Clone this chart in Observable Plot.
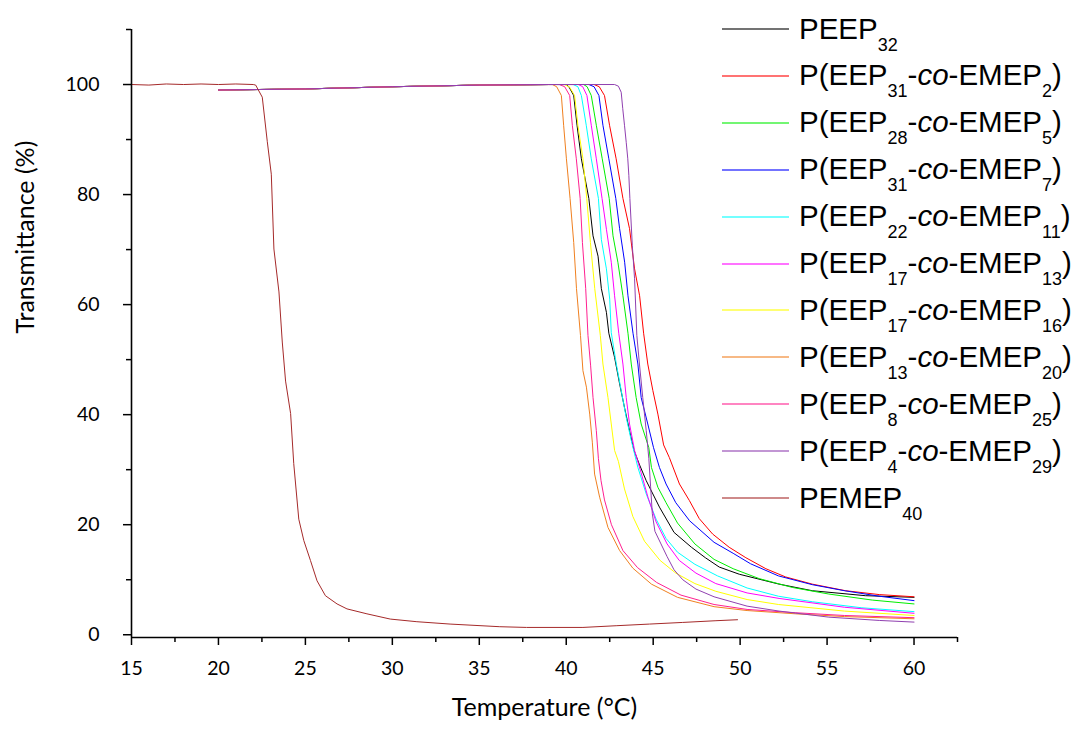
<!DOCTYPE html>
<html>
<head>
<meta charset="utf-8">
<script src="https://cdn.jsdelivr.net/npm/d3@7"></script>
<script src="https://cdn.jsdelivr.net/npm/@observablehq/plot@0.6"></script>
<style>
html, body { margin: 0; padding: 0; background: #fff; }
#wrap { position: relative; width: 1081px; height: 729px; overflow: hidden; background: #fff; }
#legend { position: absolute; left: 0; top: 0; font-family: "Liberation Sans", Arial, sans-serif; font-size: 29.5px; color: #000; }
.row { position: absolute; left: 722px; height: 30px; line-height: 30px; display: flex; align-items: center; white-space: nowrap; }
.swatch { width: 67px; height: 2px; margin-right: 10px; opacity: 0.55; }
.row sub { font-size: 18px; vertical-align: -12px; line-height: 0; }
</style>
</head>
<body>
<div id="wrap"><div id="chart"></div><div id="legend"></div></div>
<script>
// ---- data (temperature °C, transmittance %) ----
const seriesNames = ["PEEP32", "P(EEP31-co-EMEP2)", "P(EEP28-co-EMEP5)", "P(EEP31-co-EMEP7)", "P(EEP22-co-EMEP11)",
  "P(EEP17-co-EMEP13)", "P(EEP17-co-EMEP16)", "P(EEP13-co-EMEP20)", "P(EEP8-co-EMEP25)", "P(EEP4-co-EMEP29)", "PEMEP40"];
const legendLabels = ["PEEP<sub>32</sub>", "P(EEP<sub>31</sub>-<i>co</i>-EMEP<sub>2</sub>)", "P(EEP<sub>28</sub>-<i>co</i>-EMEP<sub>5</sub>)",
  "P(EEP<sub>31</sub>-<i>co</i>-EMEP<sub>7</sub>)", "P(EEP<sub>22</sub>-<i>co</i>-EMEP<sub>11</sub>)", "P(EEP<sub>17</sub>-<i>co</i>-EMEP<sub>13</sub>)",
  "P(EEP<sub>17</sub>-<i>co</i>-EMEP<sub>16</sub>)", "P(EEP<sub>13</sub>-<i>co</i>-EMEP<sub>20</sub>)", "P(EEP<sub>8</sub>-<i>co</i>-EMEP<sub>25</sub>)",
  "P(EEP<sub>4</sub>-<i>co</i>-EMEP<sub>29</sub>)", "PEMEP<sub>40</sub>"];
const seriesColors = ["#000000", "#ff0000", "#00ee00", "#0000ff", "#00ffff", "#ff00ff", "#ffff00", "#f08020", "#ff2090", "#9040b0", "#a52a2a"];

const peep32 = [[20,99.0],[25,99.2],[30,99.6],[35,99.9],[39,100],[40.0,100],[40.15,99.6],[40.43,98],[40.62,92.6],[40.87,86.5],[41.3,79.3],[41.54,72.5],[41.83,68.8],[42.02,62.9],[42.31,58.6],[42.45,54.8],[42.78,50.4],[43.07,45.6],[43.35,41.3],[43.64,37.1],[43.9,33.5],[44.2,31],[44.6,28],[45.36,23.2],[46.2,18.6],[47.2,15.9],[48.0,14.0],[48.8,12.3],[49.95,11.0],[52.24,9.2],[54.15,8.0],[57.2,7.1],[60,6.8]];
const eep31emep2 = [[20,99.0],[25,99.2],[30,99.6],[35,99.9],[39,100],[41.6,100],[41.9,99.6],[42.2,98],[42.49,92.6],[42.87,86.5],[43.26,79.3],[43.64,73.8],[43.93,66.5],[44.22,61.6],[44.45,54.8],[44.69,49.2],[44.98,44.4],[45.27,40.1],[45.6,34.5],[45.93,32.2],[46.51,27.4],[47.08,24.4],[47.65,21.1],[48.42,18.3],[49.37,15.9],[50.33,14.0],[51.48,12.0],[52.62,10.5],[54.15,9.2],[56.07,8.0],[58,7.3],[60,6.9]];
const eep28emep5 = [[20,99.0],[25,99.2],[30,99.6],[35,99.9],[39,100],[41.0,100],[41.2,99.6],[41.44,98],[41.73,92.6],[42.07,86.5],[42.47,79.3],[42.69,72.5],[42.97,67.7],[43.26,61.6],[43.55,54.8],[43.74,49.2],[44.02,43.1],[44.31,38.3],[44.75,34],[44.9,30.4],[45.27,26.8],[45.74,24],[46.4,20.3],[47.4,16.5],[48.5,13.7],[49.6,12.0],[51.1,10.2],[53,8.6],[55.1,7.4],[57.6,6.3],[60,5.6]];
const eep31emep7 = [[20,99.0],[25,99.2],[30,99.6],[35,99.9],[39,100],[41.3,100],[41.6,99.6],[41.88,98],[42.11,92.6],[42.45,86.5],[42.85,79.3],[43.07,73.8],[43.36,67.7],[43.55,61.6],[43.84,54.8],[44.12,49.2],[44.31,43.1],[44.69,38.3],[45.02,34],[45.36,30.4],[45.74,27.4],[46.3,24],[47.1,20.7],[48.5,16.8],[49.6,14.8],[50.6,12.9],[52.2,10.7],[54.15,9.1],[56,8.0],[58,7.0],[60,6.2]];
const eep22emep11 = [[20,99.0],[25,99.2],[30,99.6],[35,99.9],[39,100],[40.4,100],[40.67,99.6],[40.87,98],[41.15,92.6],[41.44,86.5],[41.85,79.3],[42.02,71.8],[42.31,66.5],[42.5,61],[42.59,54.9],[42.88,49.2],[43.16,44.4],[43.45,39.5],[43.74,35.3],[44.12,30.4],[44.6,25.6],[45.17,21.0],[45.74,17.5],[46.4,15.0],[47.4,12.8],[48.7,10.7],[50.4,8.5],[52.2,7.0],[54.15,6.0],[57,4.9],[60,4.2]];
const eep17emep13 = [[20,99.0],[25,99.2],[30,99.6],[35,99.9],[39,100],[40.7,100],[40.95,99.6],[41.19,98],[41.44,92.6],[41.73,86.5],[42.06,79.3],[42.31,73.7],[42.59,67.7],[42.78,61.6],[43.02,54.8],[43.26,49.2],[43.45,43.1],[43.64,38.3],[43.93,33.5],[44.3,29.5],[44.7,25],[45.17,20.5],[45.8,16.5],[46.5,13.5],[47.46,11.2],[48.6,9.3],[50.4,7.6],[52.24,6.6],[56,5.0],[60,3.9]];
const eep17emep16 = [[20,99.0],[25,99.2],[30,99.6],[35,99.9],[39,100],[39.9,100],[40.2,99.5],[40.48,98],[40.67,92.6],[40.96,86.5],[41.18,79.3],[41.39,71.3],[41.64,62.9],[41.96,54.4],[42.11,49.2],[42.4,43.1],[42.59,38.3],[42.78,33.5],[43.0,31.5],[43.35,26.5],[43.83,21.5],[44.5,17],[45.4,13.5],[46.3,11.2],[47.4,9.3],[48.6,7.9],[50.4,6.4],[52.2,5.5],[56,4.3],[60,3.5]];
const eep13emep20 = [[20,99.0],[25,99.2],[30,99.6],[35,99.9],[39.2,100],[39.45,99.6],[39.72,98],[39.85,92.6],[40.01,86.5],[40.22,79.3],[40.43,71.3],[40.59,62.9],[40.82,54.4],[40.96,48],[41.16,45],[41.35,40.1],[41.5,35],[41.63,29.2],[41.92,25],[42.4,19.5],[43.07,15.3],[43.83,12.1],[44.9,9.2],[46.4,6.8],[48.5,5.1],[50.4,4.4],[53.2,3.8],[56,3.3],[60,2.9]];
const eep8emep25 = [[20,99.0],[25,99.2],[30,99.6],[35,99.9],[39,100],[39.6,100],[39.91,99.6],[40.2,98],[40.35,92.6],[40.58,86.5],[40.8,79.3],[40.93,71.3],[41.12,62.9],[41.25,54.4],[41.4,49],[41.54,43.1],[41.73,37.1],[41.85,32],[42.0,28],[42.2,24.5],[42.6,20],[43.26,15.3],[44.1,12.2],[45.2,9.5],[46.6,7.2],[48.5,5.5],[50.4,4.6],[53.2,4.0],[56,3.5],[60,3.1]];
const eep4emep29 = [[20,99.0],[25,99.2],[30,99.6],[35,99.9],[39,100],[42.78,100],[43.0,99.7],[43.16,98.6],[43.25,95.6],[43.35,92.6],[43.45,89.5],[43.54,86.5],[43.6,83.5],[43.66,79.3],[43.8,70.7],[43.93,64.7],[44.06,54.4],[44.21,49.2],[44.4,43.1],[44.6,37.1],[44.75,32],[44.85,27],[44.95,22],[45.1,18.8],[45.45,16.5],[45.8,14.2],[46.2,11.8],[46.7,10],[47.46,8.3],[48.5,6.9],[50.4,5.2],[52.24,4.3],[55.1,3.2],[58,2.6],[60,2.3]];
const pemep40 = [[15,100],[16,99.9],[17,100.1],[18,100],[19,100.1],[20,100],[21,100.1],[22,100],[22.14,99.9],[22.52,97.7],[22.81,89.6],[23.04,83.7],[23.19,70.1],[23.48,62.3],[23.67,53.2],[23.86,46.1],[24.15,40.2],[24.33,31.1],[24.62,21],[24.91,17.1],[25.29,13.5],[25.67,9.8],[26.15,7.1],[26.82,5.6],[27.39,4.7],[28.54,3.8],[29.88,2.85],[31.41,2.37],[33.32,1.94],[36.18,1.46],[37.71,1.33],[40.96,1.33],[42.87,1.64],[44.79,1.94],[46.7,2.24],[48.61,2.55],[49.85,2.73]];

const xMajorTicks = [15, 20, 25, 30, 35, 40, 45, 50, 55, 60];
const xMinorTicks = [17.5, 22.5, 27.5, 32.5, 37.5, 42.5, 47.5, 52.5, 57.5, 62.5];
const yMajorTicks = [0, 20, 40, 60, 80, 100];
const yMinorTicks = [10, 30, 50, 70, 90, 110];
const xTitle = "Temperature (°C)";
const yTitle = "Transmittance (%)";

// ---- build table ----
const allSeries = [peep32, eep31emep2, eep28emep5, eep31emep7, eep22emep11, eep17emep13, eep17emep16, eep13emep20, eep8emep25, eep4emep29, pemep40];
const rows = [];
allSeries.forEach((arr, i) => arr.forEach(([t, v]) => rows.push({name: seriesNames[i], t, v})));

const axisFont = "Lato, 'Open Sans', sans-serif";
const chart = Plot.plot({
  width: 1081,
  height: 729,
  marginLeft: 131,
  marginRight: 124,
  marginTop: 29,
  marginBottom: 92,
  style: {background: "#fff", fontFamily: axisFont, color: "#000"},
  x: {domain: [15, 62.5]},
  y: {domain: [-0.5, 110]},
  color: {domain: seriesNames, range: seriesColors},
  marks: [
    Plot.line(rows, {x: "t", y: "v", z: "name", stroke: "name", strokeWidth: 1}),
    Plot.ruleX([15], {stroke: "#000", strokeWidth: 1.6}),
    Plot.ruleY([-0.5], {stroke: "#000", strokeWidth: 1.6}),
    Plot.axisX({ticks: xMajorTicks, tickSize: 8, tickPadding: 16, fontSize: 19.5, strokeWidth: 1.5, label: null}),
    Plot.axisX({ticks: xMinorTicks, tickSize: 5, strokeWidth: 1.5, text: null, label: null}),
    Plot.axisY({ticks: yMajorTicks, tickSize: 8, tickPadding: 24, fontSize: 19.5, strokeWidth: 1.5, label: null}),
    Plot.axisY({ticks: yMinorTicks, tickSize: 5, strokeWidth: 1.5, text: null, label: null}),
    Plot.text([xTitle], {frameAnchor: "bottom", dy: 78, fontSize: 25, fill: "#000"}),
    Plot.text([yTitle], {frameAnchor: "left", dx: -106, rotate: -90, fontSize: 25, fill: "#000"})
  ]
});
document.getElementById("chart").appendChild(chart);

// ---- legend ----
const legend = document.getElementById("legend");
seriesNames.forEach((name, i) => {
  const row = document.createElement("div");
  row.className = "row";
  row.style.top = (14 + 46.9 * i) + "px";
  const sw = document.createElement("span");
  sw.className = "swatch";
  sw.style.background = seriesColors[i];
  const label = document.createElement("span");
  label.innerHTML = legendLabels[i];
  row.appendChild(sw);
  row.appendChild(label);
  legend.appendChild(row);
});
</script>
</body>
</html>
